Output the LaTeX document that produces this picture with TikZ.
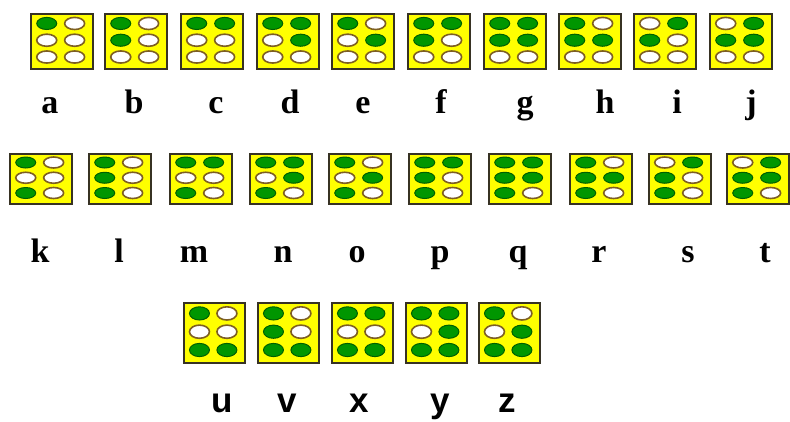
\documentclass[tikz,border=0pt]{standalone}
\usepackage{fontspec}
\newfontfamily\serifbold{Liberation Serif}
\newfontfamily\sansbold{Liberation Sans}
\definecolor{cellyellow}{RGB}{255,255,0}
\definecolor{cellborder}{RGB}{55,50,35}
\definecolor{dotgreen}{RGB}{0,150,0}
\definecolor{dotgreenline}{RGB}{0,95,0}
\definecolor{dotemptyline}{RGB}{125,95,35}
\tikzset{
  cellbox/.style={draw=cellborder, fill=cellyellow, line width=2pt, inner sep=0pt, anchor=north west},
  dotfull/.style={fill=dotgreen, draw=dotgreenline, line width=1pt},
  dotempty/.style={fill=white, draw=dotemptyline, line width=1.6pt},
  serlabel/.style={font=\serifbold\bfseries\fontsize{34}{40}\selectfont, anchor=base, inner sep=0pt},
  sanlabel/.style={font=\sansbold\bfseries\fontsize{35}{40}\selectfont, anchor=base, inner sep=0pt}
}
\newcommand\braillecell[6]{%
  \node[cellbox, minimum width=#4pt, minimum height=#5pt] (cell-#1) at (#2,#3) {};
  \foreach \v [count=\i] in #6{%
    \pgfmathsetmacro\cx{#2 + (\i<4 ? 0.27 : 0.72)*#4}%
    \pgfmathsetmacro\cy{#3 + (0.19 + 0.305*mod(\i-1,3))*#5}%
    \pgfmathsetmacro\ry{0.11*#5}%
    \ifnum\v=1\relax
      \draw[dotfull] (\cx,\cy) ellipse [x radius=10pt, y radius=\ry pt];
    \else
      \draw[dotempty] (\cx,\cy) ellipse [x radius=10pt, y radius=\ry pt];
    \fi
  }%
}
\begin{document}
\begin{tikzpicture}[x=1pt,y=-1pt]
\fill[white] (0,0) rectangle (790,421);
\useasboundingbox (0,0) rectangle (790,421);
% row 1
\foreach \n/\x/\p in {a/30/{1,0,0,0,0,0}, b/104/{1,1,0,0,0,0}, c/180/{1,0,0,1,0,0},
  d/256/{1,0,0,1,1,0}, e/331/{1,0,0,0,1,0}, f/407/{1,1,0,1,0,0}, g/483/{1,1,0,1,1,0},
  h/558/{1,1,0,0,1,0}, i/633/{0,1,0,1,0,0}, j/709/{0,1,0,1,1,0}}{
  \braillecell{\n}{\x}{13}{62}{55}{\p}
}
% row 2
\foreach \n/\x/\p in {k/9/{1,0,1,0,0,0}, l/88/{1,1,1,0,0,0}, m/169/{1,0,1,1,0,0},
  n/249/{1,0,1,1,1,0}, o/328/{1,0,1,0,1,0}, p/408/{1,1,1,1,0,0}, q/488/{1,1,1,1,1,0},
  r/569/{1,1,1,0,1,0}, s/648/{0,1,1,1,0,0}, t/726/{0,1,1,1,1,0}}{
  \braillecell{\n}{\x}{153}{62}{50}{\p}
}
% row 3
\foreach \n/\x/\p in {u/183/{1,0,1,0,0,1}, v/257/{1,1,1,0,0,1}, x/331/{1,0,1,1,0,1},
  y/405/{1,0,1,1,1,1}, z/478/{1,0,1,0,1,1}}{
  \braillecell{\n}{\x}{302}{61}{60}{\p}
}
% labels row 1
\foreach \n/\x in {a/50, b/134, c/216, d/290, e/363, f/441, g/525, h/605, i/677, j/751}{
  \node[serlabel] (lab-\n) at (\x,113) {\n};
}
% labels row 2
\foreach \n/\x in {k/40, l/119, m/194, n/283, o/357, p/440, q/518, r/599, s/688, t/765}{
  \node[serlabel] (lab-\n) at (\x,262) {\n};
}
% labels row 3
\foreach \n/\x in {u/222, v/287, x/359, y/440, z/507}{
  \node[sanlabel] (lab-\n) at (\x,412) {\n};
}
\end{tikzpicture}
\end{document}
